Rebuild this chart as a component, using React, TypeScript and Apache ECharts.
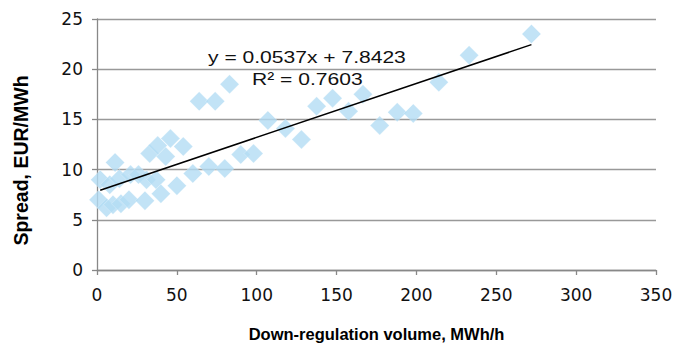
import React, { useEffect, useRef } from "react";
import * as echarts from "echarts";

const volumes = [1, 2, 6, 8, 10, 11.3, 14, 15, 20, 21, 26, 30, 31, 33, 37, 38, 40, 43, 46, 50, 54, 60, 64, 70, 74, 80, 83, 90, 98, 107, 118, 128, 137.5, 147.5, 157.5, 166.5, 177, 188, 198, 214, 233, 272];
const spreads = [7.0, 9.0, 6.2, 8.5, 6.5, 10.7, 9.1, 6.6, 7.0, 9.5, 9.5, 6.9, 9.0, 11.6, 9.0, 12.4, 7.6, 11.3, 13.1, 8.4, 12.3, 9.6, 16.8, 10.3, 16.8, 10.1, 18.5, 11.5, 11.6, 14.9, 14.1, 13.0, 16.3, 17.1, 15.8, 17.5, 14.4, 15.7, 15.6, 18.7, 21.4, 23.5];
const slope = 0.0537;
const intercept = 7.8423;
const trendX = [2, 272];
const xTicks = [0, 50, 100, 150, 200, 250, 300, 350];
const yTicks = [0, 5, 10, 15, 20, 25];
const eqText = "y = 0.0537x + 7.8423";
const r2Text = "R² = 0.7603";

export default function App() {
  const ref = useRef<HTMLDivElement>(null);
  useEffect(() => {
    if (!ref.current) return;
    const chart = echarts.init(ref.current, null, { renderer: "svg" });
    const font = "'Liberation Sans', Arial, sans-serif";
    const tickFont = "'DejaVu Sans', sans-serif";
    chart.setOption({
      animation: false,
      grid: { left: 97, right: 27, top: 19, bottom: 77, containLabel: false },
      xAxis: {
        type: "value",
        min: xTicks[0],
        max: xTicks[xTicks.length - 1],
        interval: 50,
        name: "Down-regulation volume, MWh/h",
        nameLocation: "middle",
        nameGap: 55,
        nameTextStyle: { fontFamily: font, fontWeight: "bold", fontSize: 16.5, color: "#000" },
        axisLine: { show: true, lineStyle: { color: "#888", width: 1.3 } },
        axisTick: { show: true, length: 5, lineStyle: { color: "#888", width: 1.3 } },
        axisLabel: { fontFamily: tickFont, fontSize: 17, color: "#111", margin: 16 },
        splitLine: { show: false },
      },
      yAxis: {
        type: "value",
        min: yTicks[0],
        max: yTicks[yTicks.length - 1],
        interval: 5,
        name: "Spread, EUR/MWh",
        nameLocation: "middle",
        nameGap: 66,
        nameRotate: 90,
        nameTextStyle: {
          fontFamily: font,
          fontWeight: "bold",
          fontSize: 19.5,
          color: "#000",
          padding: [0, 32, 0, 0],
        },
        axisLine: { show: true, lineStyle: { color: "#888", width: 1.3 } },
        axisTick: { show: true, length: 5, lineStyle: { color: "#888", width: 1.3 } },
        axisLabel: { fontFamily: tickFont, fontSize: 17, color: "#111", margin: 14 },
        splitLine: { show: true, lineStyle: { color: "#999", width: 1.3 } },
      },
      series: [
        {
          type: "scatter",
          symbol: "diamond",
          symbolSize: 19,
          data: volumes.map((v, i) => [v, spreads[i]]),
          itemStyle: { color: "#B3DCF4", borderColor: "rgba(255,255,255,0.35)", borderWidth: 0.8 },
          z: 2,
        },
        {
          type: "line",
          data: trendX.map((x) => [x, slope * x + intercept]),
          symbol: "none",
          lineStyle: { color: "#000", width: 1.5 },
          z: 3,
        },
      ],
      graphic: [
        {
          type: "text",
          x: 208,
          y: 57,
          scaleX: 1.24,
          style: { text: eqText, x: 0, y: 0, verticalAlign: "middle", font: `17px ${font}`, fill: "#111" },
          z: 10,
        },
        {
          type: "text",
          x: 252,
          y: 79,
          scaleX: 1.24,
          style: { text: r2Text, x: 0, y: 0, verticalAlign: "middle", font: `17px ${font}`, fill: "#111" },
          z: 10,
        },
      ],
    });
    return () => chart.dispose();
  }, []);
  return <div ref={ref} style={{ width: 683, height: 347, position: "absolute", left: 0, top: 0 }} />;
}
